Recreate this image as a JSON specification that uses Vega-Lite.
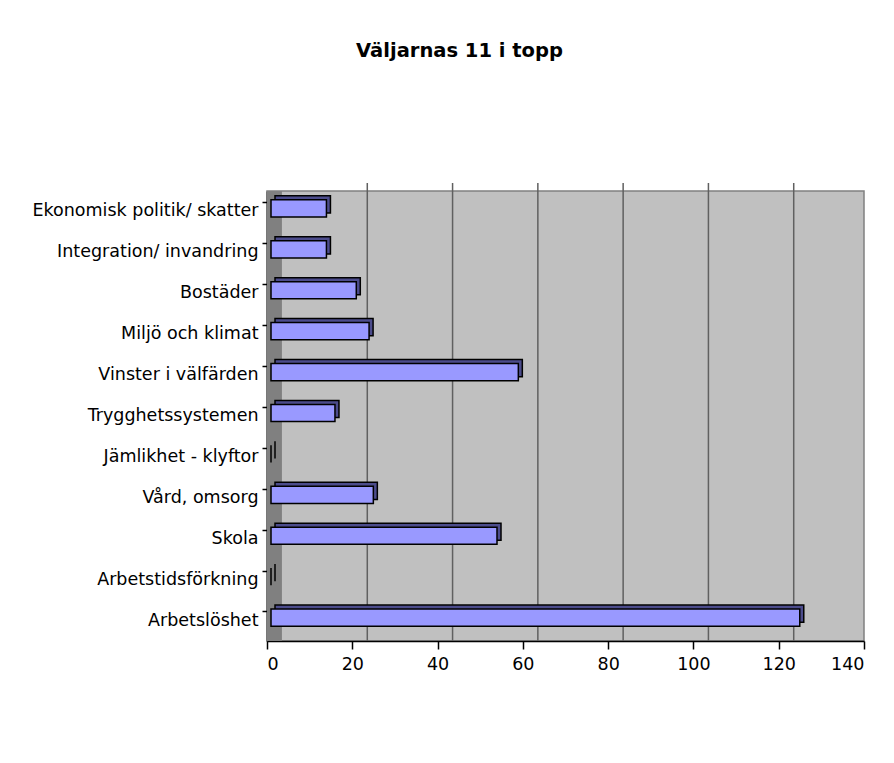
{
  "$schema": "https://vega.github.io/schema/vega-lite/v6.json",
  "autosize": {"type": "none"},
  "width": 597,
  "height": 450,
  "padding": {"left": 267, "top": 191, "right": 30, "bottom": 122},
  "background": "white",
  "title": {
    "text": "Väljarnas 11 i topp",
    "font": "DejaVu Sans",
    "fontSize": 19.5,
    "fontWeight": "bold",
    "color": "black",
    "anchor": "middle",
    "frame": "group",
    "dx": -106,
    "offset": 121
  },
  "config": {
    "view": {"fill": "#C0C0C0", "stroke": "#808080", "strokeWidth": 1.5},
    "axis": {"labelFont": "DejaVu Sans", "labelFontSize": 17.5, "labelColor": "black", "domainColor": "black", "tickColor": "black", "grid": false, "labelLimit": 0}
  },
  "datasets": {
    "bars": [
      {"kategori": "Ekonomisk politik/ skatter", "antal": 13},
      {"kategori": "Integration/ invandring", "antal": 13},
      {"kategori": "Bostäder", "antal": 20},
      {"kategori": "Miljö och klimat", "antal": 23},
      {"kategori": "Vinster i välfärden", "antal": 58},
      {"kategori": "Trygghetssystemen", "antal": 15},
      {"kategori": "Jämlikhet - klyftor", "antal": 0},
      {"kategori": "Vård, omsorg", "antal": 24},
      {"kategori": "Skola", "antal": 53},
      {"kategori": "Arbetstidsförkning", "antal": 0},
      {"kategori": "Arbetslöshet", "antal": 124}
    ],
    "grid": [
      {"v": 20}, {"v": 40}, {"v": 60}, {"v": 80}, {"v": 100}, {"v": 120}
    ],
    "wall": [{"fran": 0, "till": 3.5}]
  },
  "layer": [
    {
      "data": {"name": "wall"},
      "mark": {"type": "rect", "fill": "#808080"},
      "encoding": {
        "x": {"field": "fran", "type": "quantitative", "scale": {"domain": [0, 140], "nice": false}},
        "x2": {"field": "till"}
      }
    },
    {
      "data": {"name": "grid"},
      "mark": {"type": "rule", "color": "#606060", "strokeWidth": 1.5, "xOffset": 15, "yOffset": -8},
      "encoding": {
        "x": {"field": "v", "type": "quantitative", "scale": {"domain": [0, 140], "nice": false}}
      }
    },
    {
      "data": {"name": "bars"},
      "mark": {"type": "bar", "color": "#4C4C8C", "stroke": "black", "strokeWidth": 1.5, "xOffset": 8, "yOffset": -7},
      "encoding": {
        "y": {"field": "kategori", "type": "nominal", "sort": null, "scale": {"paddingInner": 0.58, "paddingOuter": 0.29}},
        "x": {"field": "antal", "type": "quantitative", "scale": {"domain": [0, 140], "nice": false}}
      }
    },
    {
      "data": {"name": "bars"},
      "mark": {"type": "bar", "color": "#9999FF", "stroke": "black", "strokeWidth": 1.5, "xOffset": 4, "yOffset": -3},
      "encoding": {
        "y": {
          "field": "kategori", "type": "nominal", "sort": null, "title": null,
          "scale": {"paddingInner": 0.58, "paddingOuter": 0.29},
          "axis": {"bandPosition": 0, "tickSize": 5, "labelPadding": 4, "domainWidth": 1.5, "tickWidth": 1.5}
        },
        "x": {
          "field": "antal", "type": "quantitative", "title": null,
          "scale": {"domain": [0, 140], "nice": false},
          "axis": {"values": [0, 20, 40, 60, 80, 100, 120, 140], "tickSize": 8, "labelPadding": 6, "domainWidth": 1.5, "tickWidth": 1.5}
        }
      }
    }
  ]
}
